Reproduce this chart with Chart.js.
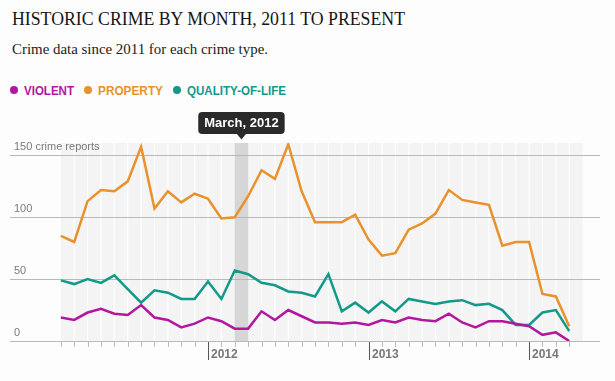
<!DOCTYPE html>
<html><head><meta charset="utf-8">
<script src="https://cdn.jsdelivr.net/npm/chart.js@4.4.1/dist/chart.umd.min.js"></script>
<style>
html,body{margin:0;padding:0;background:#fcfdfc;}
body{width:615px;height:381px;position:relative;overflow:hidden;}
.fit{position:absolute;white-space:nowrap;line-height:1;transform-origin:0 0;}
#title{left:12px;top:10.2px;font-family:"Liberation Serif",serif;font-size:18.5px;color:#151515;}
#sub{left:12px;top:41.7px;font-family:"Liberation Serif",serif;font-size:15px;color:#222;}
.lab{top:84.8px;font-family:"Liberation Sans",Arial,sans-serif;font-weight:bold;font-size:12px;}
.dot{position:absolute;top:86px;width:8px;height:8px;border-radius:50%;}
#wrap{position:absolute;left:0;top:100px;width:615px;height:281px;}
</style></head>
<body>
<div id="title" class="fit" data-w="393">HISTORIC CRIME BY MONTH, 2011 TO PRESENT</div>
<div id="sub" class="fit" data-w="256">Crime data since 2011 for each crime type.</div>
<div id="legend"></div>
<div id="wrap"><canvas id="c" width="615" height="281"></canvas></div>
<script>
// ---- data ----
const months = ['2011-02','2011-03','2011-04','2011-05','2011-06','2011-07','2011-08','2011-09','2011-10','2011-11','2011-12',
'2012-01','2012-02','2012-03','2012-04','2012-05','2012-06','2012-07','2012-08','2012-09','2012-10','2012-11','2012-12',
'2013-01','2013-02','2013-03','2013-04','2013-05','2013-06','2013-07','2013-08','2013-09','2013-10','2013-11','2013-12',
'2014-01','2014-02','2014-03','2014-04'];
const violent  = [19,17,23,26,22,21,29,19,17,11,14, 19,16,10,10,24,17,25,20,15,15,14,15, 13,17,15,19,17,16,22,15,11,16,16,14, 12,5,7,0];
const property = [85,80,113,122,121,129,157,107,121,112,119, 115,99,100,117,138,131,159,121,96,96,96,102, 82,69,71,90,95,103,122,114,112,110,77,80, 80,38,36,12];
const quality  = [49,46,50,47,53,42,31,41,39,34,34, 48,34,57,54,47,45,40,39,36,54,24,31, 23,32,24,34,32,30,32,33,29,30,25,13, 13,23,25,8];
const seriesNames = ['VIOLENT','PROPERTY','QUALITY-OF-LIFE'];
const yTicks = [0,50,100,150];
const yTickLabels = ['0','50','100','150 crime reports'];
const yearLabels = ['2012','2013','2014'];
const highlightMonth = '2012-03';
const highlightLabel = 'March, 2012';

const colors = ['#b3169f','#e8922d','#12998a'];
const legendLeft = [10,84,173];
const legendTextLeft = [24,98,187];
const legendW = [50,65,99];

// legend
const lg = document.getElementById('legend');
seriesNames.forEach((n,i)=>{
  const d=document.createElement('div');d.className='dot';d.style.left=legendLeft[i]+'px';d.style.background=colors[i];lg.appendChild(d);
  const t=document.createElement('div');t.className='fit lab';t.style.left=legendTextLeft[i]+'px';t.style.color=colors[i];t.textContent=n;t.dataset.w=legendW[i];lg.appendChild(t);
});
document.querySelectorAll('.fit').forEach(el=>{
  const w=el.getBoundingClientRect().width; const tw=+el.dataset.w;
  if(w>0&&tw) el.style.transform='scaleX('+(tw/w)+')';
});

const toXY = arr => arr.map((v,i)=>({x:i,y:v}));

const decor = {
  id:'decor',
  beforeDatasetsDraw(chart){
    const {ctx, chartArea:a, scales:{x,y}} = chart;
    ctx.save();
    // month bands
    const x0=x.getPixelForValue(0), x1=x.getPixelForValue(months.length);
    ctx.fillStyle='#f4f4f4';
    ctx.fillRect(x0,a.top,x1-x0,a.bottom-a.top);
    const hi=months.indexOf(highlightMonth);
    ctx.fillStyle='#d6d6d6';
    ctx.fillRect(x.getPixelForValue(hi),a.top,x.getPixelForValue(hi+1)-x.getPixelForValue(hi),a.bottom-a.top);
    ctx.strokeStyle='#ffffff';ctx.lineWidth=1.2;
    for(let i=1;i<months.length;i++){
      if(i===hi||i===hi+1) continue;
      const px=x.getPixelForValue(i);
      ctx.beginPath();ctx.moveTo(px,a.top);ctx.lineTo(px,a.bottom);ctx.stroke();
    }
    // horizontal grid
    ctx.strokeStyle='#b9b9b9';ctx.lineWidth=1;
    yTicks.forEach(v=>{
      const py=Math.round(y.getPixelForValue(v))+0.5;
      ctx.beginPath();ctx.moveTo(a.left,py);ctx.lineTo(a.right,py);ctx.stroke();
    });
    // y labels
    ctx.fillStyle='#7a7a7a';ctx.font='11px "Liberation Sans", Arial, sans-serif';ctx.textBaseline='alphabetic';ctx.textAlign='left';
    yTicks.forEach((v,i)=>{
      ctx.fillText(yTickLabels[i],a.left+4,y.getPixelForValue(v)-5.5);
    });
    // x ticks
    const yb=Math.round(y.getPixelForValue(0));
    months.forEach((m,i)=>{
      const px=Math.round(x.getPixelForValue(i))+0.5;
      const isYear=m.endsWith('-01');
      ctx.strokeStyle=isYear?'#555':'#bdbdbd';
      ctx.beginPath();ctx.moveTo(px,yb+1);ctx.lineTo(px,yb+(isYear?19:6));ctx.stroke();
      if(isYear){
        const lab=m.slice(0,4);
        if(yearLabels.includes(lab)){
          ctx.fillStyle='#777';ctx.font='bold 12px "Liberation Sans", Arial, sans-serif';
          ctx.fillText(lab,px+2.5,yb+17);
        }
      }
    });
    ctx.restore();
  },
  afterDatasetsDraw(chart){
    const {ctx, chartArea:a, scales:{x}} = chart;
    const hi=months.indexOf(highlightMonth);
    const cx=(x.getPixelForValue(hi)+x.getPixelForValue(hi+1))/2;
    ctx.save();
    ctx.font='bold 13px "Liberation Sans", Arial, sans-serif';
    const tw=ctx.measureText(highlightLabel).width;
    const w=tw+12,h=22,top=12,left=cx-w/2,r=4;
    ctx.fillStyle='#2a2a2a';
    ctx.beginPath();
    ctx.roundRect(left,top,w,h,r);
    ctx.fill();
    ctx.beginPath();ctx.moveTo(cx-4.5,top+h);ctx.lineTo(cx+4.5,top+h);ctx.lineTo(cx,top+h+5.5);ctx.closePath();ctx.fill();
    ctx.fillStyle='#fff';ctx.textAlign='center';ctx.textBaseline='middle';
    ctx.fillText(highlightLabel,cx,top+h/2+0.5);
    ctx.restore();
  }
};

new Chart(document.getElementById('c'),{
  type:'line',
  data:{datasets:[
    {label:seriesNames[0],data:toXY(violent),borderColor:colors[0]},
    {label:seriesNames[1],data:toXY(property),borderColor:colors[1]},
    {label:seriesNames[2],data:toXY(quality),borderColor:colors[2]}
  ]},
  options:{
    responsive:false,animation:false,devicePixelRatio:1,
    layout:{padding:{left:10,right:15,top:43,bottom:40}},
    elements:{line:{borderWidth:2.5,tension:0,fill:false,borderJoinStyle:'miter'},point:{radius:0,hoverRadius:0}},
    scales:{
      x:{type:'linear',display:false,min:-3.8,max:40.3},
      y:{type:'linear',display:false,min:0,max:160}
    },
    plugins:{legend:{display:false},tooltip:{enabled:false},title:{display:false}},
    events:[]
  },
  plugins:[decor]
});
</script>
</body></html>
